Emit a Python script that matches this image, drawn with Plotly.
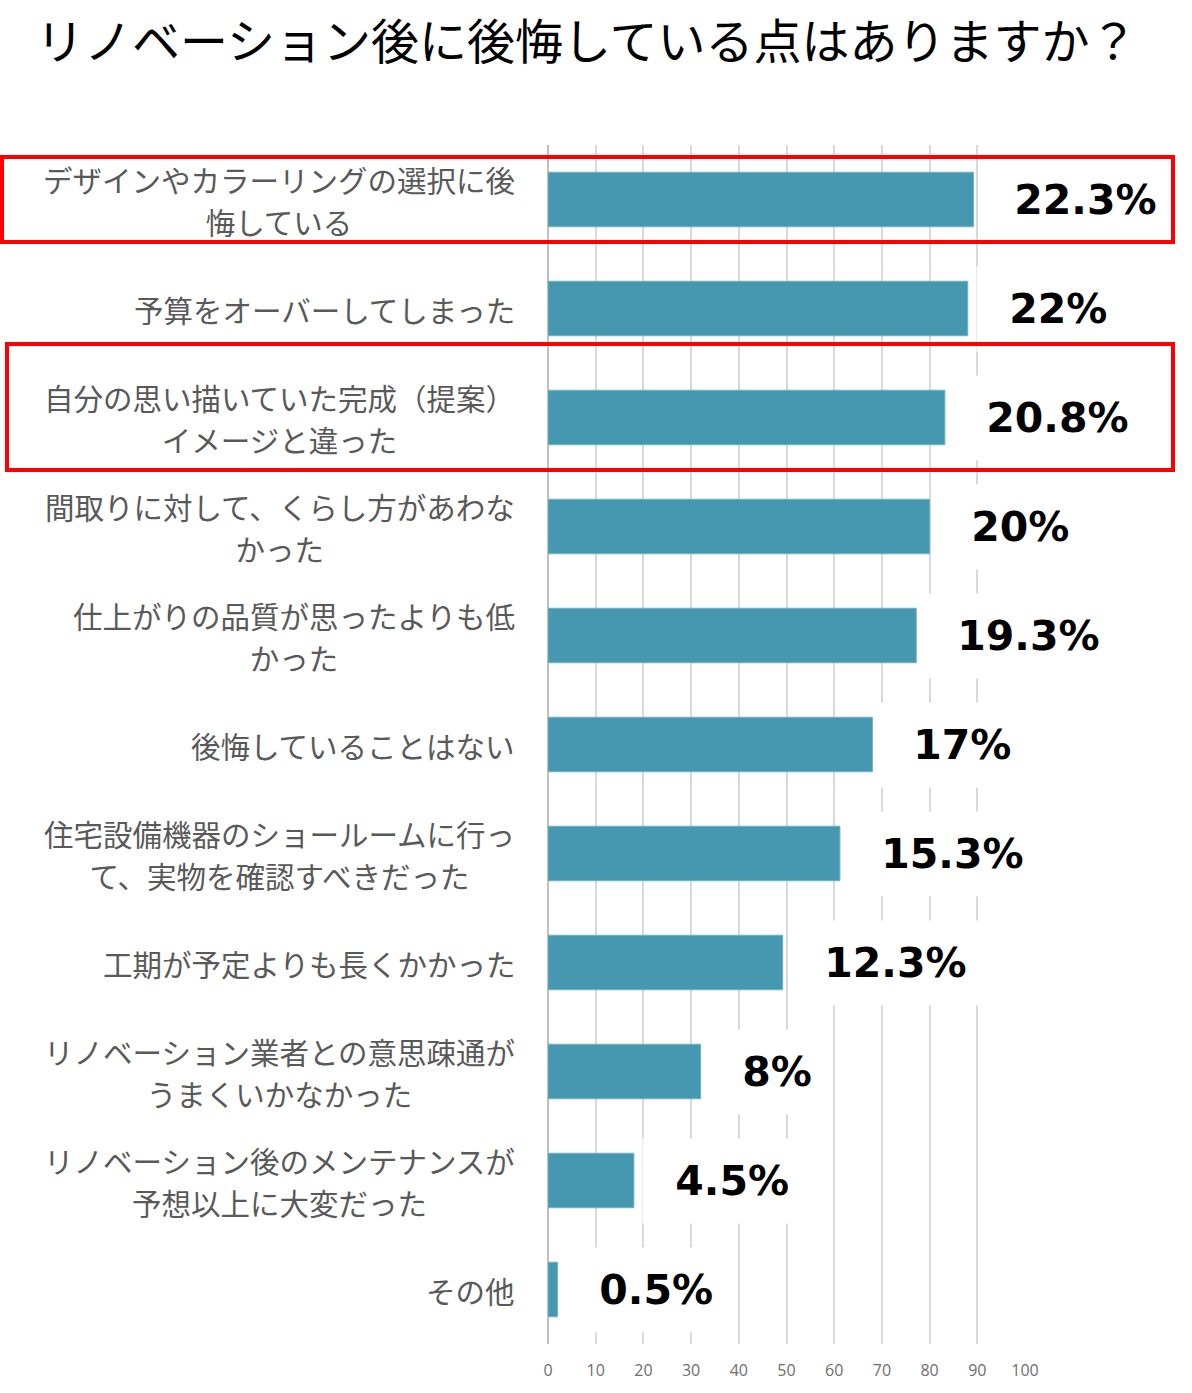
import plotly.graph_objects as go

# ---- data ----
categories = [
    "デザインやカラーリングの選択に後<br>悔している",
    "予算をオーバーしてしまった",
    "自分の思い描いていた完成（提案）<br>イメージと違った",
    "間取りに対して、くらし方があわな<br>かった",
    "仕上がりの品質が思ったよりも低<br>かった",
    "後悔していることはない",
    "住宅設備機器のショールームに行っ<br>て、実物を確認すべきだった",
    "工期が予定よりも長くかかった",
    "リノベーション業者との意思疎通が<br>うまくいかなかった",
    "リノベーション後のメンテナンスが<br>予想以上に大変だった",
    "その他",
]
# bar lengths as read on the 0-100 axis
bar_values = [89.2, 88.0, 83.2, 80.0, 77.2, 68.0, 61.2, 49.2, 32.0, 18.0, 2.0]
value_labels = ["22.3%", "22%", "20.8%", "20%", "19.3%", "17%", "15.3%", "12.3%", "8%", "4.5%", "0.5%"]
tick_values = [0, 10, 20, 30, 40, 50, 60, 70, 80, 90, 100]
tick_labels = ["0", "10", "20", "30", "40", "50", "60", "70", "80", "90", "100"]
highlighted = [0, 2]
title_text = "リノベーション後に後悔している点はありますか？"

W, H = 1192, 1393
ML, MR, MT, MB = 548, 167, 145, 46
PW = W - ML - MR
PH = H - MT - MB

fig = go.Figure()
fig.add_trace(go.Bar(
    x=bar_values,
    y=list(range(len(categories))),
    orientation="h",
    width=0.5,
    marker=dict(color="#4598AF", line=dict(color="#6FB0C2", width=1)),
    hoverinfo="skip",
))

annotations = []
for i, (cat, v, lab) in enumerate(zip(categories, bar_values, value_labels)):
    lines = cat.split("<br>")
    txt = "<br>".join(f"<span style='font-size:29.5px'>{ln}</span>" for ln in lines)
    annotations.append(dict(
        xref="paper", yref="y", x=0, y=i, xanchor="right", yanchor="middle",
        xshift=-31, text=txt, align="center", showarrow=False,
        font=dict(family="Noto Sans CJK JP", size=32.5, color="#595959"),
    ))
    annotations.append(dict(
        xref="x", yref="y", x=v, y=i, xanchor="left", yanchor="middle",
        xshift=8, text="\u00a0" + lab, showarrow=False,
        font=dict(family="DejaVu Sans", size=41, color="#000000", weight="bold"),
        bgcolor="#ffffff", borderpad=18,
    ))

# red highlight frames (stroke centre, in page pixels), drawn on top of labels
box_pix = {0: (2, 157, 1173, 242), 2: (7, 344, 1173, 470)}
BW = 4
for idx in highlighted:
    x0p, y0p, x1p, y1p = box_pix[idx]
    annotations.append(dict(
        xref="paper", yref="paper",
        x=(x0p - BW / 2 - ML) / PW, y=(H - MB - (y0p - BW / 2)) / PH,
        xanchor="left", yanchor="top",
        width=(x1p - x0p) - BW, height=(y1p - y0p) - BW,
        text="\u00a0", showarrow=False,
        bordercolor="#FF0000", borderwidth=BW, borderpad=0,
        bgcolor="rgba(0,0,0,0)",
    ))

fig.update_layout(
    width=W, height=H,
    margin=dict(l=ML, r=MR, t=MT, b=MB, pad=0),
    paper_bgcolor="white", plot_bgcolor="white",
    showlegend=False,
    title=dict(
        text=title_text, xref="container", yref="container",
        x=36 / W, xanchor="left", y=1 - 42 / H, yanchor="middle",
        font=dict(family="Noto Sans CJK JP", size=48, color="#000000"),
    ),
    xaxis=dict(
        range=[0, 100], tickvals=tick_values, ticktext=tick_labels,
        showgrid=True, gridcolor="#D9D9D9", gridwidth=1.5,
        zeroline=True, zerolinecolor="#BFBFBF", zerolinewidth=1.5,
        showline=False, ticks="outside", ticklen=12, tickcolor="rgba(0,0,0,0)",
        tickfont=dict(family="Open Sans", size=16, color="#6e6e6e"),
        fixedrange=True,
    ),
    yaxis=dict(
        range=[len(categories) - 0.5, -0.5], showticklabels=False,
        showgrid=False, zeroline=False, showline=False, fixedrange=True,
    ),
    annotations=annotations,
)

fig.write_html("out.html", config={"displayModeBar": False},
               post_script="document.body.style.margin='0';document.body.style.overflow='hidden';")
